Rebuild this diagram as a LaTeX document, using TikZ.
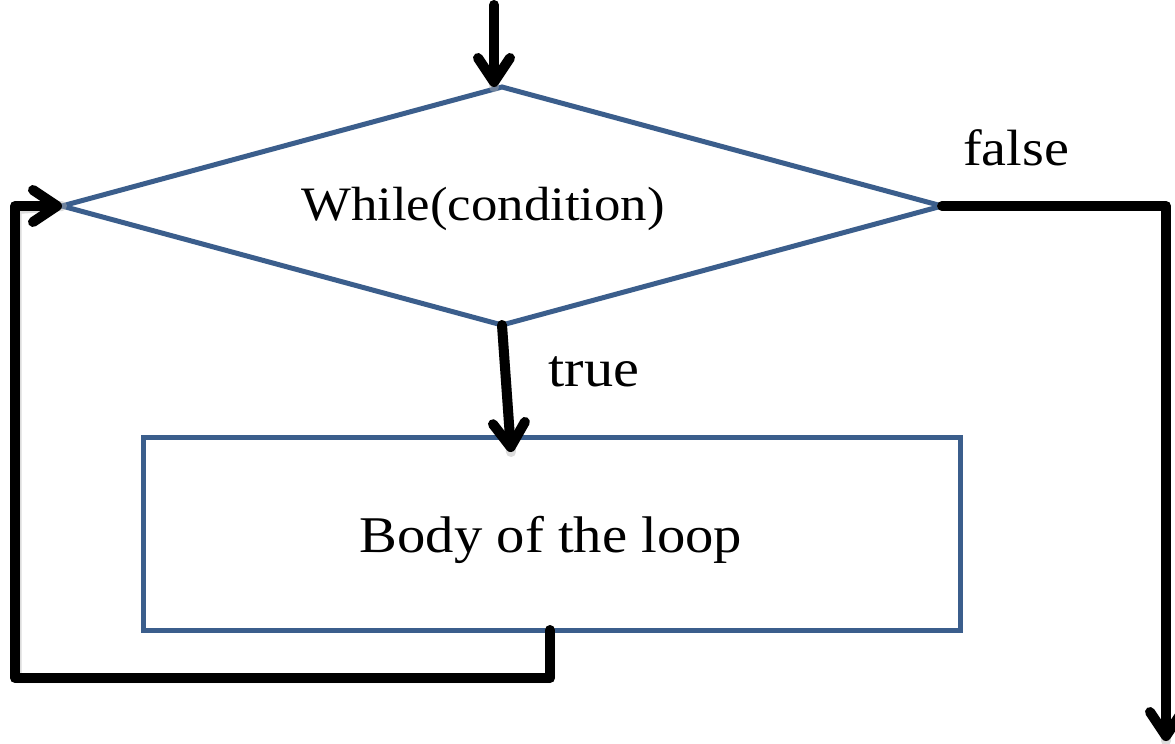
\documentclass[tikz,border=0pt]{standalone}
\usepackage{fontspec}
\setmainfont{Liberation Serif}[FakeStretch=1.1]
\usetikzlibrary{arrows.meta,shapes.geometric,calc}
\definecolor{flowblue}{RGB}{59,94,140}
\tikzset{
  shape border/.style={draw=flowblue, line width=5pt},
  flowline/.style={line width=10pt, black, line join=round, line cap=round},
  arrowline/.style={flowline, -{Straight Barb[length=24pt, width=32pt, round]}},
  lineshadow/.style={line width=10pt, black!30, opacity=0.45, line join=round, line cap=round},
  txt/.style={inner sep=0pt, text=black},
}
\begin{document}
\begin{tikzpicture}[x=1pt, y=-1pt]
  \useasboundingbox[fill=white] (0,0) rectangle (1175,744);

  % decision and process shapes
  \node[shape border, diamond, minimum width=880pt, minimum height=238pt,
        inner sep=0pt, outer sep=0pt] (cond) at (502,206) {};
  \node[shape border, rectangle, minimum width=817pt, minimum height=193pt,
        inner sep=0pt, outer sep=0pt] (body) at (551.5,533.5) {};

  % labels
  \node[txt, font=\fontsize{48}{54}\selectfont] (condtext) at (483,209) {While(condition)};
  \node[txt, font=\fontsize{51.5}{58}\selectfont] (bodytext) at (551,540) {Body of the loop};
  \node[txt, font=\fontsize{51}{58}\selectfont] (falselbl) at (1016,148) {false};
  \node[txt, font=\fontsize{53}{60}\selectfont] (truelbl) at (594,372) {true};

  % free ends of the flow
  \coordinate (entry) at (494,5);
  \coordinate (exit) at (1166,741);
  \coordinate (trueend) at (511,452);

  % soft shadows under the connectors
  \begin{scope}[shift={(1.5,3)}]
    \draw[lineshadow] (entry) -- ([xshift=-8pt]cond.north);
    \draw[lineshadow] (cond.east) -- (exit |- cond.east) -- (exit);
    \draw[lineshadow] (cond.south) -- (trueend);
    \draw[lineshadow] ([xshift=-1.5pt]body.south) -- ++(0,48) -| (15,206) -- (cond.west);
  \end{scope}

  % connectors
  \draw[arrowline] (entry) -- ([xshift=-8pt]cond.north);
  \draw[arrowline] (cond.east) -- (exit |- cond.east) -- (exit);
  \draw[arrowline] (cond.south) -- (trueend);
  \draw[arrowline] ([xshift=-1.5pt]body.south) -- ++(0,48) -| (15,206) -- (cond.west);
\end{tikzpicture}
\end{document}
